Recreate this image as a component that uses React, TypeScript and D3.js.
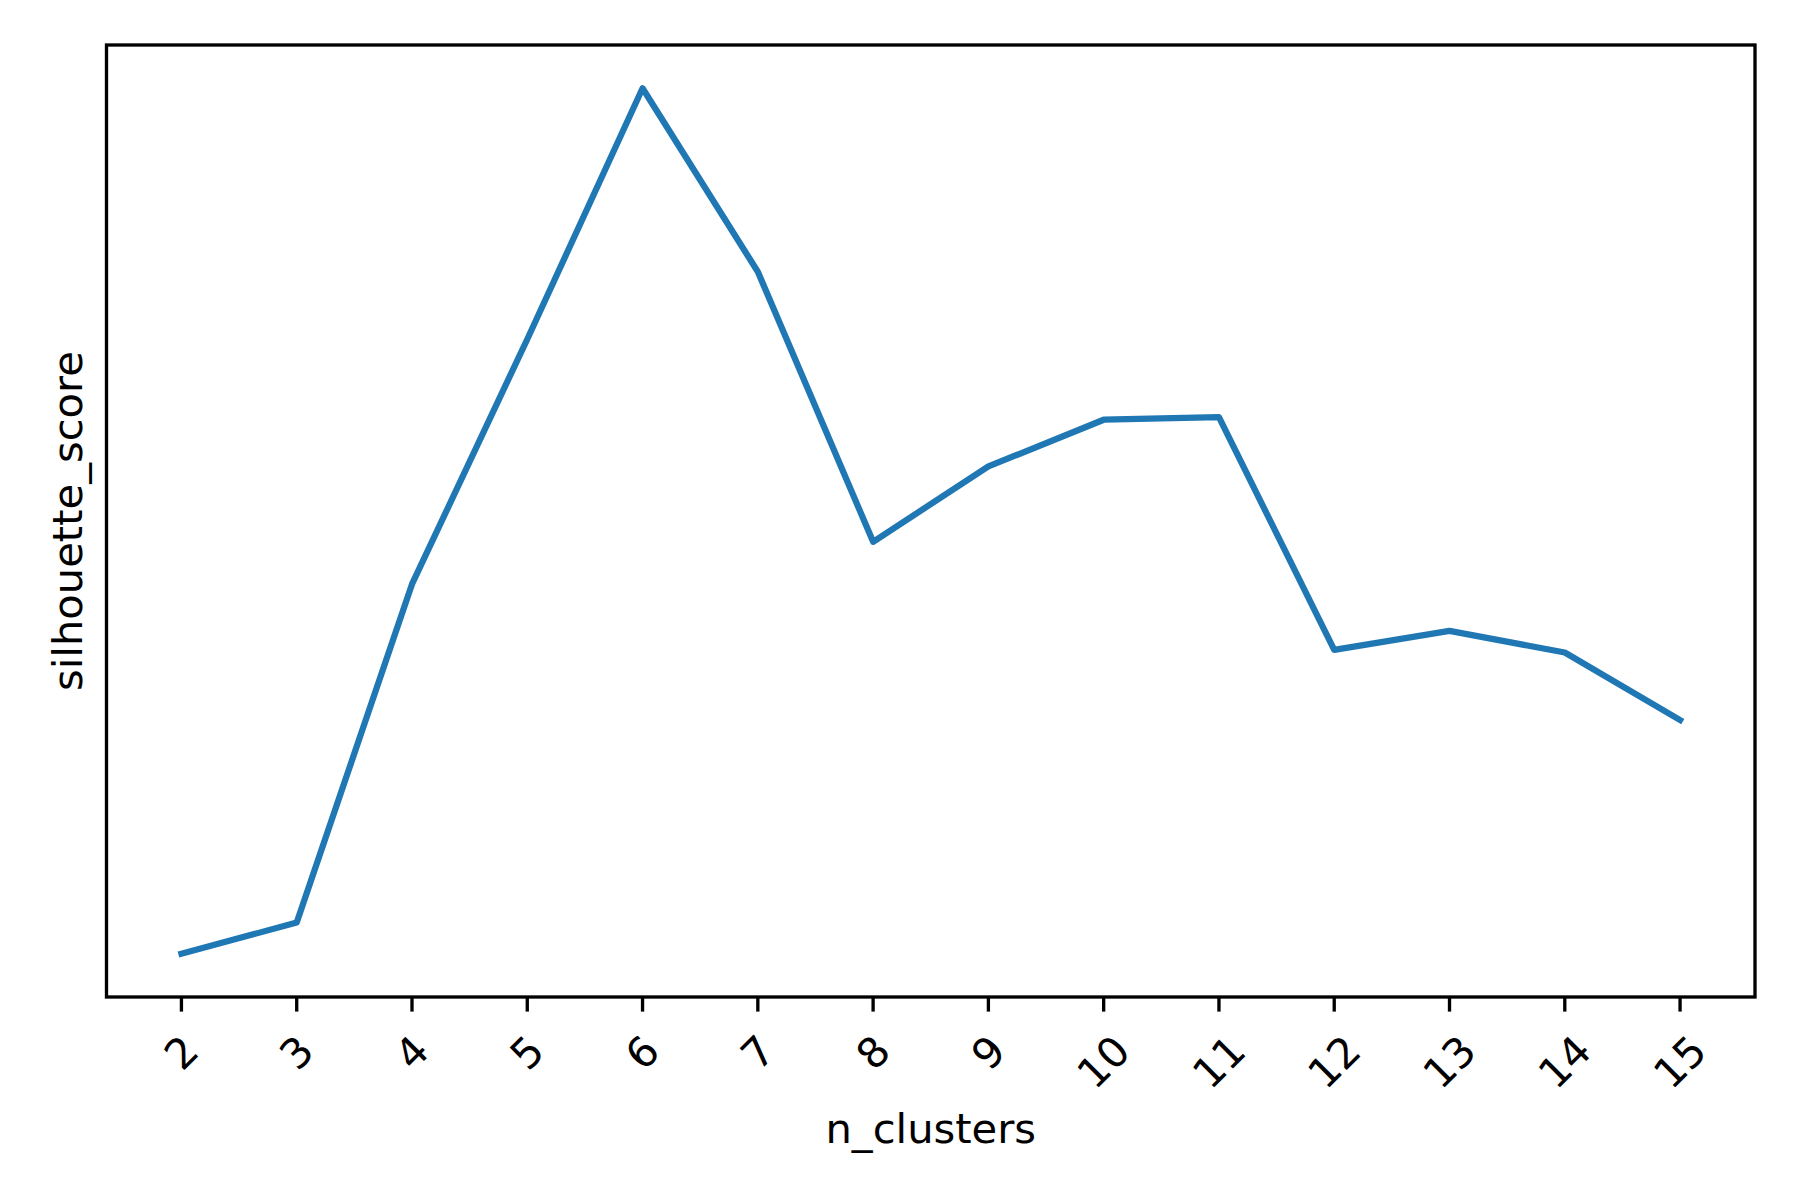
import React from "react";
import * as d3 from "d3";

const nClusters = [2, 3, 4, 5, 6, 7, 8, 9, 10, 11, 12, 13, 14, 15];
const silhouetteScores = [
  0.25, 0.2536, 0.2927, 0.321, 0.35, 0.3288, 0.2976, 0.3063, 0.3117, 0.312,
  0.2851, 0.2873, 0.2848, 0.277,
];
const xLabel = "n_clusters";
const yLabel = "silhouette_score";

const W = 1800;
const H = 1200;
const left = 106.5;
const right = 1755;
const top = 45;
const bottom = 997;
const fs = 41.67;
const font = "DejaVu Sans";

export default function App() {
  const xMin = d3.min(nClusters)!;
  const xMax = d3.max(nClusters)!;
  const xPad = (xMax - xMin) * 0.05;
  const x = d3.scaleLinear().domain([xMin - xPad, xMax + xPad]).range([left, right]);

  const [yMin, yMax] = d3.extent(silhouetteScores) as [number, number];
  const yPad = (yMax - yMin) * 0.05;
  const y = d3.scaleLinear().domain([yMin - yPad, yMax + yPad]).range([bottom, top]);

  const line = d3
    .line<number>()
    .x((_, i) => x(nClusters[i]))
    .y((d) => y(d));

  const tickLen = 14.6;
  const pad = 14.6;
  const labelTop = bottom + tickLen + pad;
  const boxH = fs * 1.164;

  return (
    <svg
      width={W}
      height={H}
      viewBox={`0 0 ${W} ${H}`}
      style={{ position: "absolute", left: 0, top: 0, background: "#fff" }}
    >
      <rect x={0} y={0} width={W} height={H} fill="#fff" />
      <path
        d={line(silhouetteScores) || ""}
        fill="none"
        stroke="#1f77b4"
        strokeWidth={6.25}
        strokeLinejoin="round"
        strokeLinecap="square"
      />
      <rect
        x={left}
        y={top}
        width={right - left}
        height={bottom - top}
        fill="none"
        stroke="#000"
        strokeWidth={3.33}
      />
      {nClusters.map((n) => {
        const tx = x(n);
        const label = String(n);
        const w = label.length * 0.636 * fs;
        const cy = labelTop + (w + boxH) / (2 * Math.SQRT2);
        return (
          <g key={n}>
            <line
              x1={tx}
              x2={tx}
              y1={bottom}
              y2={bottom + tickLen}
              stroke="#000"
              strokeWidth={3.33}
            />
            <text
              x={tx}
              y={cy + 0.346 * fs}
              textAnchor="middle"
              fontFamily={font}
              fontSize={fs}
              fill="#000"
              transform={`rotate(-45, ${tx}, ${cy})`}
            >
              {label}
            </text>
          </g>
        );
      })}
      <text
        x={(left + right) / 2}
        y={1143}
        textAnchor="middle"
        fontFamily={font}
        fontSize={fs}
        fill="#000"
      >
        {xLabel}
      </text>
      <text
        x={0}
        y={0}
        textAnchor="middle"
        fontFamily={font}
        fontSize={fs}
        fill="#000"
        transform={`translate(82, ${(top + bottom) / 2}) rotate(-90)`}
      >
        {yLabel}
      </text>
    </svg>
  );
}
